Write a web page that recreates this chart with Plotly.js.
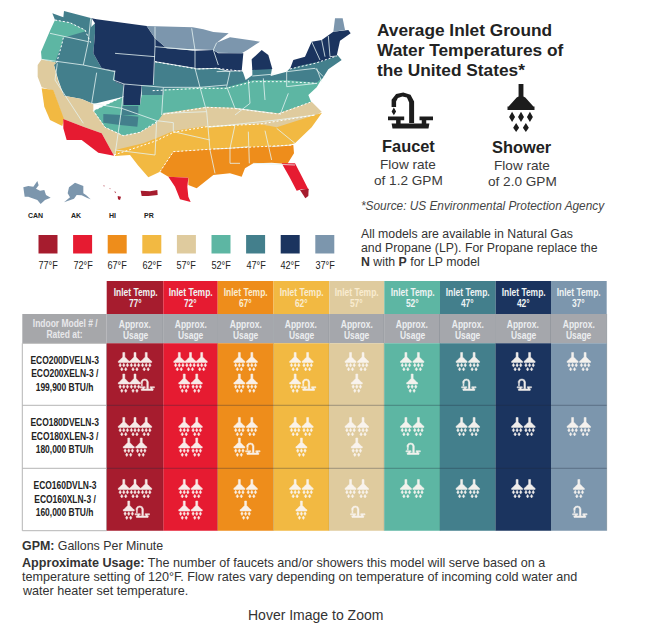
<!DOCTYPE html>
<html><head><meta charset="utf-8">
<script src="https://cdn.plot.ly/plotly-3.0.1.min.js"></script>
<style>html,body{margin:0;padding:0;background:#fff}#c{width:648px;height:633px}</style></head>
<body><div id="c"></div>
<script>
// ---------- values ----------
const temps   = [77,72,67,62,57,52,47,42,37];
const colors  = ['#a61c2e','#e61b31','#ee8d1b','#f2b942','#dfcb9e','#5db6a3','#437f8c','#1b345f','#7c96ad'];
const models  = [['ECO200DVELN-3','ECO200XELN-3 /','199,900 BTU/h'],
                 ['ECO180DVELN-3','ECO180XLEN-3 /','180,000 BTU/h'],
                 ['ECO160DVLN-3','ECO160XLN-3 /','160,000 BTU/h']];
const showers = [[5,5,4,3,3,3,2,2,2],[5,4,3,3,3,2,2,2,2],[4,4,3,3,2,2,2,2,1]];
const faucets = [[1,0,0,1,0,0,1,1,0],[0,0,1,0,0,1,0,0,0],[1,0,0,0,1,0,0,0,1]];

// map zones
const zones = [
 [5,[[165,60],[210,68],[255,90],[272,128],[205,115],[185,135],[170,188],[125,178],[123,155],[150,92]]],
 [6,[[157,40],[190,52],[192,33],[275,55],[272,128],[255,90],[210,68],[165,60]]],
 [6,[[190,113],[262,92],[285,70],[285,100],[280,160],[305,205],[345,212],[345,245],[372,255],[370,290],[280,312],[245,297],[192,287],[175,240],[162,195],[185,135]]],
 [6,[[460,185],[590,205],[650,205],[680,212],[728,214],[737,240],[757,226],[757,208],[816,205],[812,228],[860,215],[870,205],[900,195],[970,180],[1012,165],[1025,180],[985,208],[968,235],[950,252],[860,245],[760,245],[680,265],[600,265],[490,272],[458,272]]],
 [5,[[280,332],[370,290],[370,315],[420,315],[425,285],[490,285],[490,268],[600,262],[680,262],[760,240],[860,240],[950,248],[968,232],[950,262],[925,285],[935,310],[840,345],[700,328],[620,325],[490,345],[470,368],[420,397],[370,407],[315,382]]],
 [6,[[425,252],[460,252],[460,272],[490,268],[490,285],[425,285]]],
 [6,[[365,318],[415,318],[415,345],[365,345]]],
 [6,[[310,342],[365,345],[415,350],[412,380],[360,375],[310,368]]],
 [4,[[113,195],[125,178],[170,188],[162,195],[175,245],[192,287],[245,297],[280,312],[280,332],[315,382],[370,407],[420,397],[470,368],[490,340],[620,320],[700,323],[835,340],[935,305],[965,335],[940,352],[830,385],[780,372],[620,382],[520,397],[470,422],[350,452],[342,467],[305,400],[250,380],[190,357],[160,272],[125,262],[113,230]]],
 [3,[[125,265],[160,270],[192,357],[187,378],[150,360],[133,320]]],
 [3,[[345,468],[345,450],[430,430],[480,410],[520,393],[620,378],[780,372],[830,382],[945,345],[966,338],[935,382],[885,430],[860,437],[640,447],[520,455],[480,515],[445,532],[415,497],[390,465]]],
 [2,[[520,455],[640,447],[880,435],[882,460],[862,492],[815,488],[760,490],[735,505],[725,530],[690,520],[640,525],[590,565],[565,555],[565,533],[505,530],[480,515]]],
 [1,[[190,357],[250,380],[305,400],[342,467],[295,458],[245,420],[200,420],[190,385]]],
 [1,[[505,530],[565,533],[562,560],[565,590],[572,606],[540,598],[525,560]]],
 [1,[[845,490],[885,490],[906,530],[926,570],[905,568],[890,572],[868,530]]],
 [0,[[900,570],[926,566],[925,588],[916,595]]],
 [7,[[275,55],[290,58],[440,78],[465,115],[500,145],[585,152],[640,150],[655,160],[730,160],[725,214],[680,212],[650,205],[590,205],[465,185],[460,255],[425,255],[420,315],[370,315],[370,255],[345,245],[345,212],[305,205],[280,160],[285,100],[285,70]]],
 [8,[[440,78],[578,82],[610,88],[640,96],[686,100],[650,128],[690,112],[780,125],[742,150],[725,160],[655,158],[640,150],[500,145],[465,115]]],
 [7,[[755,178],[785,150],[805,165],[817,207],[757,210]]],
 [7,[[870,207],[880,180],[915,170],[935,125],[965,120],[1000,95],[1045,90],[1052,100],[1020,122],[1010,168],[970,182],[900,197]]],
 [8,[[1000,95],[1005,55],[1028,55],[1035,90]]]
];
const insets = [
 [8,[[70,562],[85,558],[100,560],[112,543],[116,556],[108,566],[120,572],[133,570],[138,585],[152,593],[135,600],[122,612],[112,600],[95,594],[85,590],[74,590]]],
 [8,[[207,562],[225,548],[250,558],[250,580],[258,585],[272,598],[262,594],[245,586],[230,585],[222,596],[192,607],[210,592],[203,580]]],
 [0,[[353,588],[363,590],[360,600],[354,598]]],
 [0,[[343,574],[348,576],[346,580]]],
 [0,[[328,564],[332,566],[330,568]]],
 [0,[[310,556],[314,557],[312,560]]],
 [0,[[422,572],[450,574],[472,570],[473,585],[445,588],[425,588]]]
];
const stateLines = [
 [[150,100],[265,125]],[[125,178],[250,195],[345,215]],[[272,55],[265,125],[250,195]],[[172,190],[165,240],[250,370]],
 [[290,218],[275,310]],[[275,310],[365,325],[470,362]],[[345,160],[465,170]],[[465,80],[465,140],[460,255]],[[465,140],[580,150]],
 [[575,85],[585,150],[585,205]],[[465,185],[585,205],[600,262]],[[345,212],[340,240],[372,252],[490,262],[600,262],[680,255]],
 [[372,252],[365,325],[345,465]],[[490,262],[485,345]],[[470,362],[465,465],[345,450]],[[470,362],[520,368],[520,395],[630,420]],
 [[490,340],[620,335]],[[600,262],[620,335],[630,450],[645,520]],[[620,380],[705,375],[690,445],[640,447]],[[690,445],[690,490],[720,490]],
 [[690,445],[745,440]],[[745,395],[748,490]],[[795,392],[815,480]],[[625,382],[830,360],[945,345]],[[885,430],[830,385]],[[815,440],[875,435]],
 [[760,490],[885,495]],[[590,207],[650,205],[690,215],[680,260],[705,325]],[[650,215],[730,212]],[[745,240],[750,310],[705,345]],
 [[790,235],[795,300]],[[757,228],[825,222]],[[860,215],[860,260]],[[860,260],[950,250]],[[840,345],[865,280]],[[705,325],[820,340]],
 [[650,128],[640,150],[655,195]],[[935,125],[960,180]],[[965,120],[975,170]],[[985,108],[990,170],[1010,168]],[[860,215],[945,205],[970,230]],[[950,205],[965,245]]
];
const dashLines = [
 [[165,60],[210,68],[255,90],[272,128]],[[190,113],[185,135],[170,188]],[[458,272],[600,265],[680,265],[760,245],[860,245],[950,250]],
 [[280,332],[370,290]],[[490,343],[620,322],[700,325],[835,342],[935,305]],[[470,365],[420,397],[370,407],[315,382],[280,332]],
 [[480,515],[520,455],[640,447],[880,435]],[[520,397],[620,380],[780,372],[945,345]],[[342,465],[470,422],[520,397]],
 [[465,185],[590,207],[650,205],[728,214]],[[870,207],[945,190],[1010,168]]
];
// glyph outlines on a unit box
const showerGlyph = [
 [[-.09,0],[.09,0],[.09,.26],[.16,.28],[.46,.47],[-.46,.47],[-.16,.28],[-.09,.26]],
 [[-.5,.47],[.5,.47],[.5,.54],[-.5,.54]],
 [[-.33,.58],[-.22,.69],[-.33,.79],[-.44,.69]],[[0,.58],[.11,.69],[0,.79],[-.11,.69]],[[.33,.58],[.44,.69],[.33,.79],[.22,.69]],
 [[-.18,.81],[-.07,.91],[-.18,1],[-.29,.91]],[[.18,.81],[.29,.91],[.18,1],[.07,.91]]
];
const faucetGlyph = [
 [[-.42,.4],[-.42,.2],[-.32,.04],[-.16,0],[0,.06],[.08,.25],[.08,.85],[-.03,.85],[-.03,.28],[-.08,.14],[-.18,.11],[-.28,.15],[-.32,.25],[-.32,.4]],
 [[-.37,.42],[-.32,.53],[-.37,.63],[-.42,.53]],
 [[-.5,.67],[-.14,.67],[-.14,.77],[-.22,.77],[-.22,.87],[-.32,.87],[-.32,.77],[-.5,.77]],
 [[.2,.67],[.5,.67],[.5,.77],[.35,.77],[.35,.87],[.25,.87],[.25,.77],[.2,.77]],
 [[-.42,.86],[.42,.86],[.4,1],[-.4,1]]
];
// ---------- geometry of the sheet ----------
const colEdges = [106.7,163.3,217.7,273.5,329.3,384.3,440,495.7,551,606.7];
const rowEdges = [343.3,405.3,468.3,530.7];
const S = 1/3;
const FONT='"Liberation Sans",Arial,sans-serif';
const traces=[], shapes=[], ann=[], squeezed=[];
const polyTrace=(polys,color,op,lw)=>{const x=[],y=[];polys.forEach(p=>{p.forEach(q=>{x.push(q[0]);y.push(q[1])});x.push(p[0][0],null);y.push(p[0][1],null)});
 traces.push({type:'scatter',mode:'lines',x,y,fill:'toself',fillcolor:color,opacity:op||1,line:{width:lw||0,color:color,simplify:false},hoverinfo:'skip',showlegend:false})};
const scaled=p=>p.map(q=>[q[0]*S,q[1]*S]);
zones.concat(insets).forEach(z=>polyTrace([scaled(z[1])],colors[z[0]]));
const lineTrace=(segs,color,w,dash)=>{const x=[],y=[];segs.forEach(s=>{s.forEach(q=>{x.push(q[0]*S);y.push(q[1]*S)});x.push(null);y.push(null)});
 traces.push({type:'scatter',mode:'lines',x,y,line:{color,width:w,dash:dash||'solid'},hoverinfo:'skip',showlegend:false})};
lineTrace(stateLines,'#e4f3f1',.8);
lineTrace(dashLines,'#ffffff',1,'2px,2px');
const rect=(x0,y0,x1,y1,fill,line)=>shapes.push({type:'rect',layer:'below',xref:'x',yref:'y',x0,y0,x1,y1,fillcolor:fill,line:line||{width:0}});
const txt=(x,y,text,size,o={})=>{ann.push({xref:'x',yref:'y',x,y,text,showarrow:false,xanchor:o.a||'center',yanchor:'middle',borderpad:0,
 font:{family:FONT,size,color:o.c||'#2e2e2e'}});if(o.sq)squeezed.push([ann.length-1,o.sq]);};
// legend
temps.forEach((t,i)=>{const cx=48+i*34.6;rect(cx-9.5,235,cx+9.5,253.5,colors[i]);txt(cx,265,t+'°F',10.5,{c:'#222',sq:.87})});
[['CAN',35],['AK',76],['HI',112],['PR',149]].forEach(l=>txt(l[1],215,'<b>'+l[0]+'</b>',7,{c:'#222'}));
// table
rect(22.3,314,106.7,343.3,'#a6a7aa');
rect(22.3,343.3,106.7,530.7,'#ffffff',{color:'#b5b5b5',width:1});
const N=.77;
txt(64.5,323,'<b>Indoor Model # /</b>',11,{c:'#e8e8ea',sq:N});txt(64.5,334,'<b>Rated at:</b>',11,{c:'#e8e8ea',sq:N});
models.forEach((m,r)=>{const cy=(rowEdges[r]+rowEdges[r+1])/2;m.forEach((t,k)=>txt(64.5,cy+(k-1)*13.5-1,'<b>'+t+'</b>',11,{c:'#222',sq:N}))});
temps.forEach((t,c)=>{const a=colEdges[c],b=colEdges[c+1],m=(a+b)/2,tc=(c==3||c==4||c==2)?'#f9ecd0':'#eef3f4';
 rect(a,281,b,314,colors[c]);rect(a,314,b,343.3,'#a5a7ac');rect(a,343.3,b,530.7,colors[c]);
 txt(m,291.5,'<b>Inlet Temp.</b>',11,{c:tc,sq:N});txt(m,303,'<b>'+t+'°</b>',11,{c:tc,sq:N});
 txt(m,323.5,'<b>Approx.</b>',11,{c:'#eceef0',sq:N});txt(m,334.5,'<b>Usage</b>',11,{c:'#eceef0',sq:N});
 shapes.push({type:'line',layer:'below',xref:'x',yref:'y',x0:b,x1:b,y0:314,y1:530.7,line:{color:'rgba(40,60,70,.25)',width:1}});
});
rowEdges.slice(1,3).forEach(y=>{shapes.push({type:'line',layer:'below',xref:'x',yref:'y',x0:22.3,x1:106.7,y0:y,y1:y,line:{color:'#b5b5b5',width:1}});
 shapes.push({type:'line',layer:'below',xref:'x',yref:'y',x0:106.7,x1:606.7,y0:y,y1:y,line:{color:'rgba(30,40,60,.35)',width:1}})});
// icons
const place=(g,cx,top,w,h)=>g.map(p=>p.map(q=>[cx+q[0]*w,top+q[1]*h]));
const icons=[];
const rowTops=[[352.5,374],[417.5,438],[479.5,501]];
showers.forEach((row,r)=>row.forEach((s,c)=>{const f=faucets[r][c],n=s+f,seq=Array(s).fill('s').concat(Array(f).fill('f'));
 const nTop=n>=5?3:(n==2&&s==1?1:2),m=(colEdges[c]+colEdges[c+1])/2;
 [seq.slice(0,nTop),seq.slice(nTop)].forEach((items,k)=>{const gap=items.length==3?11.2:12.5;
  items.forEach((it,i)=>{const cx=m+(i-(items.length-1)/2)*gap;
   if(it=='s')icons.push(...place(showerGlyph,cx,rowTops[r][k],11,18.5));
   else icons.push(...place(faucetGlyph,cx+1,rowTops[r][k]+5,14.5,11.5));});});
}));
polyTrace(icons,'#fbf6f2',.95,.5);
polyTrace(place(faucetGlyph,410.5,92.5,45,36),'#1c1c1c');
polyTrace(place(showerGlyph,521,84,27,48),'#1c1c1c');
// text
['Average Inlet Ground','Water Temperatures of','the United States*'].forEach((t,i)=>txt(376,30+i*20,'<b>'+t+'</b>',17.3,{a:'left',c:'#222'}));
txt(408,146,'<b>Faucet</b>',16.4,{c:'#222'});txt(408,164,'Flow rate',13.6,{c:'#3a3a3a'});txt(408,180,'of 1.2 GPM',13.6,{c:'#3a3a3a'});
txt(522,147,'<b>Shower</b>',16.4,{c:'#222'});txt(522,165,'Flow rate',13.6,{c:'#3a3a3a'});txt(522,181,'of 2.0 GPM',13.6,{c:'#3a3a3a'});
txt(360,206,'<i>*Source: US Environmental Protection Agency</i>',11.85,{a:'left',c:'#444'});
['All models are available in Natural Gas','and Propane (LP). For Propane replace the','<b>N</b> with <b>P</b> for LP model'].forEach((t,i)=>txt(360,234+i*14,t,12.3,{a:'left',c:'#333'}));
txt(21,546,'<b>GPM:</b> Gallons Per Minute',12.4,{a:'left',c:'#333'});
['<b>Approximate Usage:</b> The number of faucets and/or showers this model will serve based on a','temperature setting of 120°F. Flow rates vary depending on temperature of incoming cold water and','water heater set temperature.'].forEach((t,i)=>txt(21,563+i*14,t,12.6,{a:'left',c:'#333'}));
txt(315,615,'Hover Image to Zoom',14,{c:'#333'});

Plotly.newPlot('c',traces,{width:648,height:633,margin:{l:0,r:0,t:0,b:0},paper_bgcolor:'#fff',plot_bgcolor:'#fff',showlegend:false,
 xaxis:{range:[0,648],visible:false,fixedrange:true},yaxis:{range:[633,0],visible:false,fixedrange:true},shapes,annotations:ann},{displayModeBar:false,staticPlot:true}).then(()=>{
 squeezed.forEach(([i,k])=>{document.querySelectorAll('.annotation[data-index="'+i+'"] text').forEach(t=>{t.style.transformBox='fill-box';t.style.transformOrigin='center';t.style.transform='scaleX('+k+')';});});
});
</script></body></html>
